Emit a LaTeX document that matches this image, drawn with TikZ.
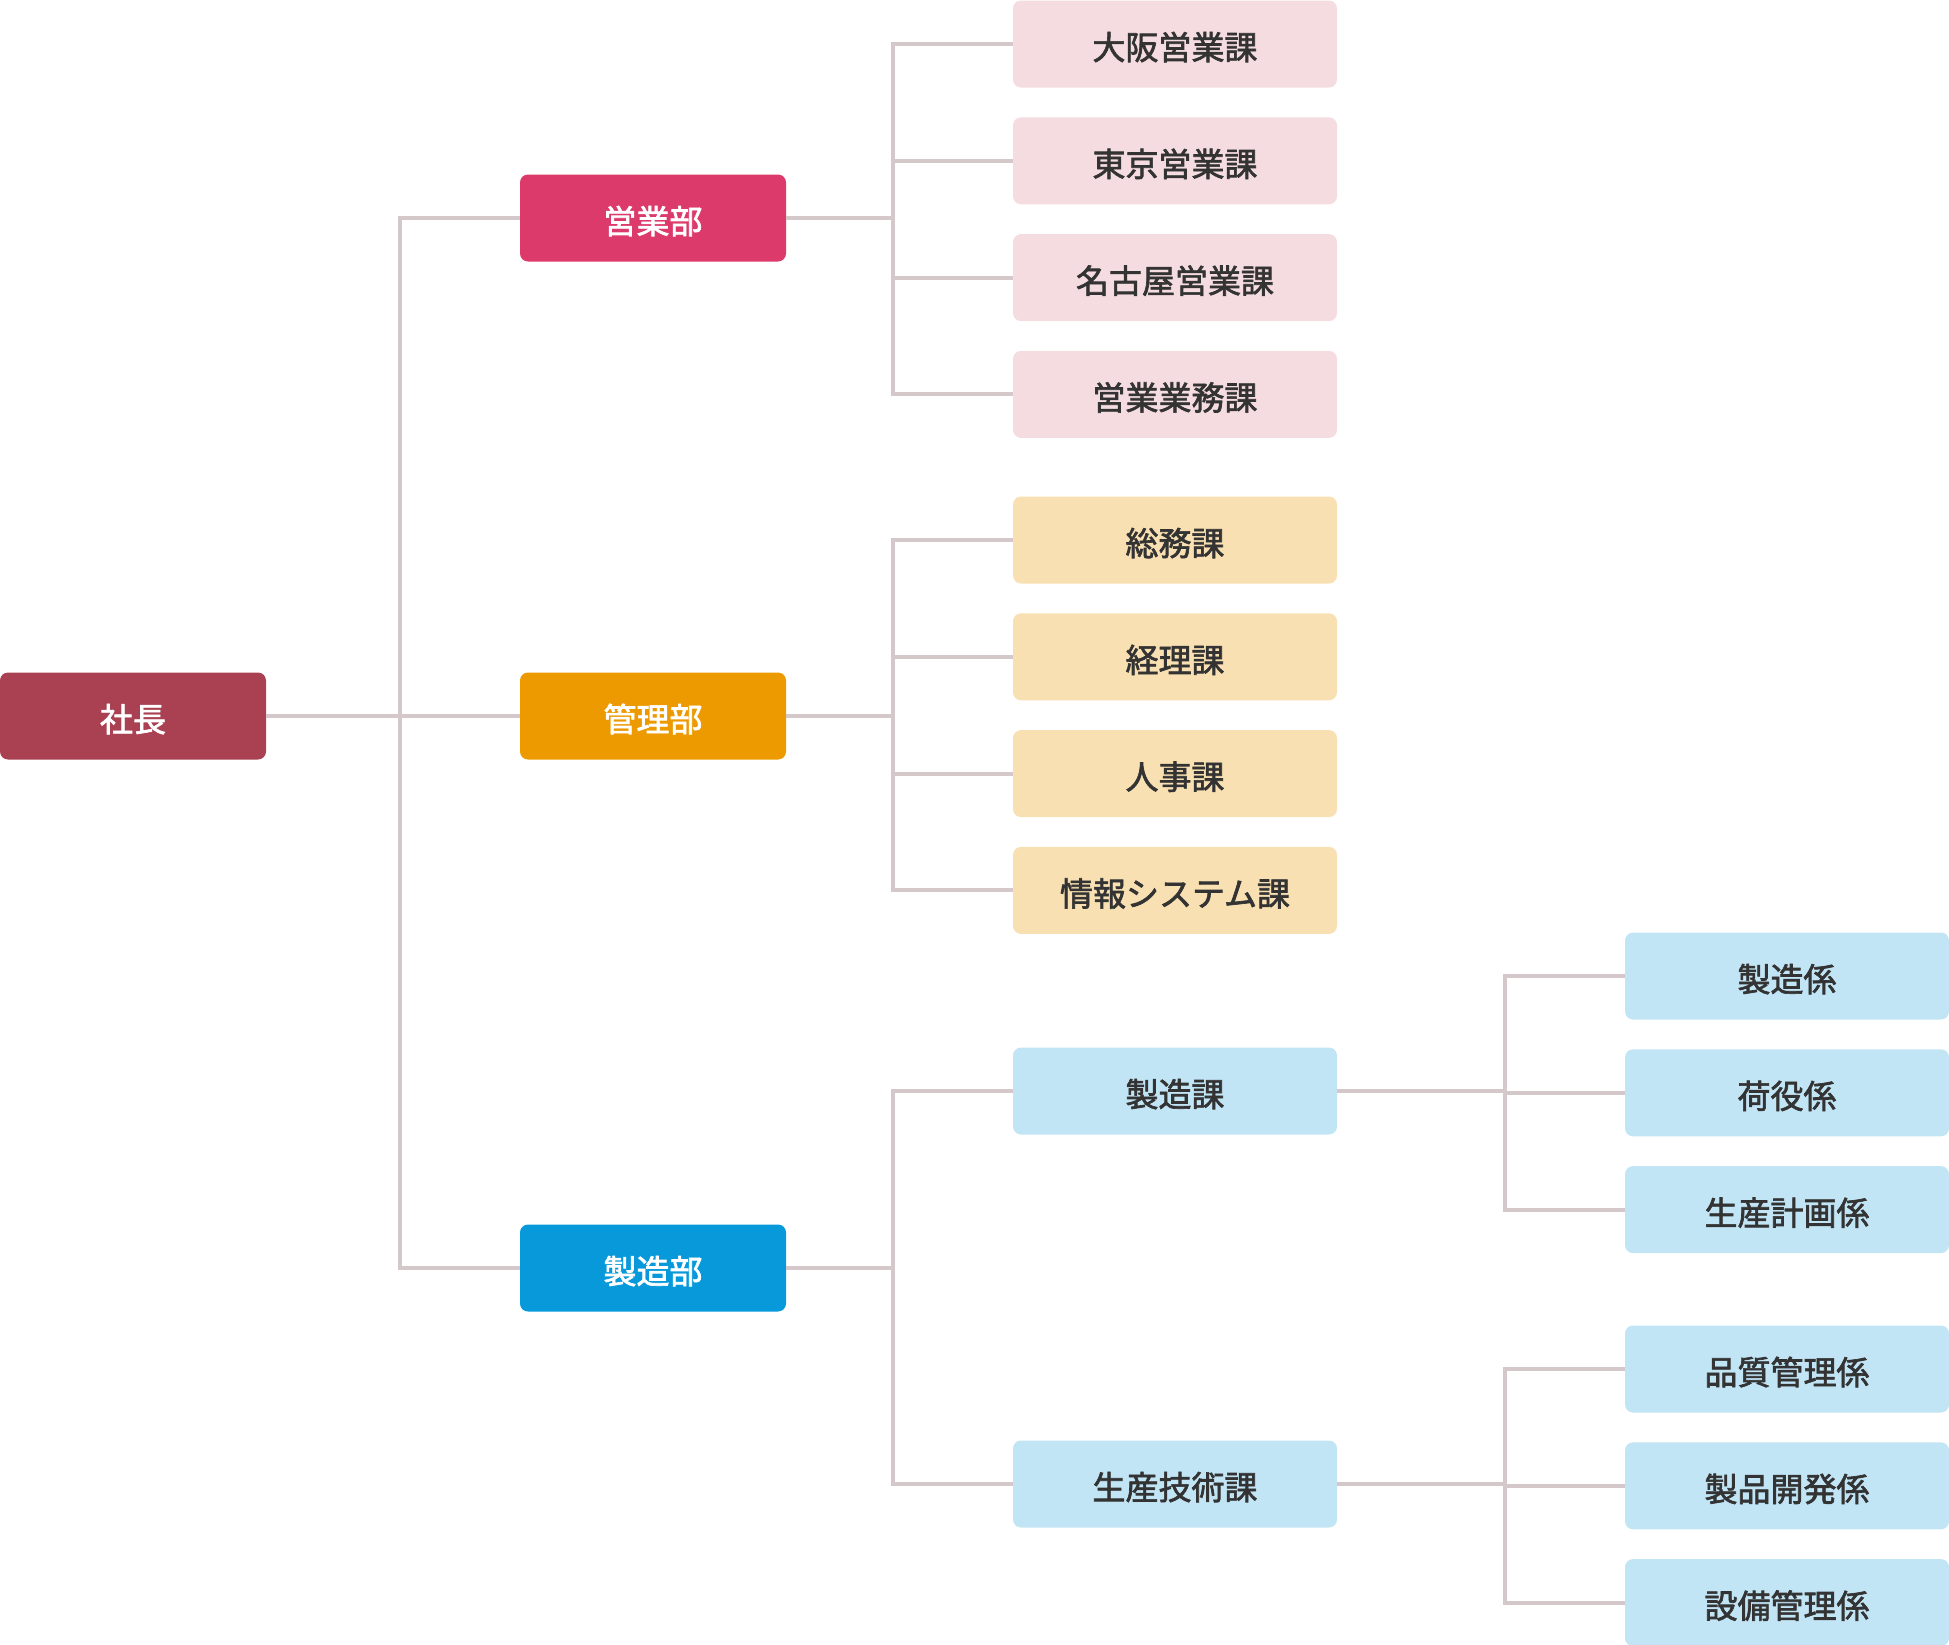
\documentclass[tikz,border=0pt]{standalone}
\usepackage{fontspec}
\setmainfont{Noto Sans CJK JP}
\newfontfamily\jpmed{Noto Sans CJK JP}[FakeBold=2]
\usetikzlibrary{positioning}
\definecolor{presred}{HTML}{A94152}
\definecolor{salesred}{HTML}{DB3A6A}
\definecolor{admorange}{HTML}{EC9A00}
\definecolor{mfgblue}{HTML}{0899DB}
\definecolor{salespink}{HTML}{F5DCE0}
\definecolor{admcream}{HTML}{F8E0B2}
\definecolor{mfglight}{HTML}{C2E5F6}
\definecolor{textdark}{HTML}{333333}
\definecolor{linegray}{HTML}{D5C8CA}
\tikzset{
  box/.style  = {rounded corners=4pt, align=center, minimum height=43.5pt, inner sep=0pt,
                 text height=15.6pt, text depth=0pt,
                 font=\fontsize{16.5}{20}\selectfont\jpmed},
  head/.style = {box, minimum width=133pt, text=white},
  sect/.style = {box, minimum width=162pt, text=textdark},
  link/.style = {draw=linegray, line width=2pt},
}

\begin{document}
\begin{tikzpicture}[x=0.5pt, y=-0.5pt, node distance=14.5pt]
  \useasboundingbox (0,0) rectangle (1949,1644);
  % top levels
  \node[head, fill=presred] (pres) at (133,716) {社長};
  \node[head, fill=salesred] (sales) at (653,218) {営業部};
  \node[head, fill=admorange] (admin) at (653,716) {管理部};
  \node[head, fill=mfgblue] (mfg) at (653,1268) {製造部};
  % sales sections
  \node[sect, fill=salespink] (osaka) at (1175,44) {大阪営業課};
  \node[sect, fill=salespink, below=of osaka] (tokyo) {東京営業課};
  \node[sect, fill=salespink, below=of tokyo] (nagoya) {名古屋営業課};
  \node[sect, fill=salespink, below=of nagoya] (salesops) {営業業務課};
  % admin sections
  \node[sect, fill=admcream] (general) at (1175,540) {総務課};
  \node[sect, fill=admcream, below=of general] (account) {経理課};
  \node[sect, fill=admcream, below=of account] (hr) {人事課};
  \node[sect, fill=admcream, below=of hr] (infosys) {情報システム課};
  % manufacturing sections
  \node[sect, fill=mfglight] (mfgsec) at (1175,1091) {製造課};
  \node[sect, fill=mfglight] (prodtech) at (1175,1484) {生産技術課};
  \node[sect, fill=mfglight] (making) at (1787,976) {製造係};
  \node[sect, fill=mfglight, below=of making] (cargo) {荷役係};
  \node[sect, fill=mfglight, below=of cargo] (planning) {生産計画係};
  \node[sect, fill=mfglight] (quality) at (1787,1369) {品質管理係};
  \node[sect, fill=mfglight, below=of quality] (develop) {製品開発係};
  \node[sect, fill=mfglight, below=of develop] (equip) {設備管理係};
  % bus points
  \coordinate (busP) at (400,716);
  \coordinate (busS) at (893,218);
  \coordinate (busA) at (893,716);
  \coordinate (busM) at (893,1268);
  \coordinate (busX) at (1505,1091);
  \coordinate (busT) at (1505,1484);
  % connectors
  \draw[link] (pres) -- (admin);
  \draw[link] (sales.west) -| (busP) |- (mfg.west);
  \draw[link] (sales) -- (busS);
  \foreach \n in {osaka,tokyo,nagoya,salesops} \draw[link] (\n.west) -| (busS);
  \draw[link] (admin) -- (busA);
  \foreach \n in {general,account,hr,infosys} \draw[link] (\n.west) -| (busA);
  \draw[link] (mfg) -- (busM);
  \foreach \n in {mfgsec,prodtech} \draw[link] (\n.west) -| (busM);
  \draw[link] (mfgsec) -- (busX);
  \foreach \n in {making,cargo,planning} \draw[link] (\n.west) -| (busX);
  \draw[link] (prodtech) -- (busT);
  \foreach \n in {quality,develop,equip} \draw[link] (\n.west) -| (busT);
\end{tikzpicture}
\end{document}
